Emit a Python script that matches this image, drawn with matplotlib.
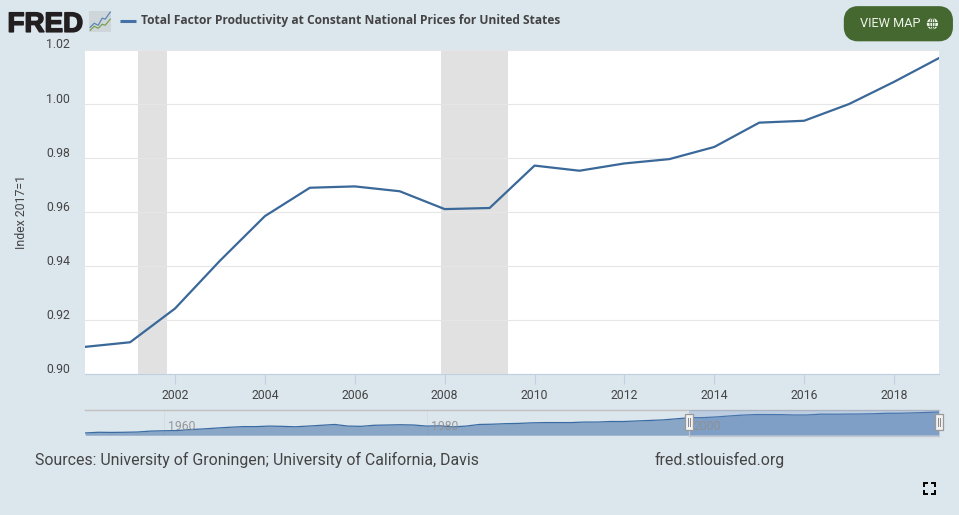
import matplotlib

matplotlib.use("Agg")
import matplotlib.pyplot as plt
import matplotlib.patheffects as pe
from matplotlib.patches import Circle, Ellipse, FancyBboxPatch, Rectangle
from matplotlib.transforms import ScaledTranslation

# layout is worked out in the pixels of the screenshot
W, H = 957, 510

BG = "#dce6ed"
LINE = "#3a6899"
TEXT = "#444444"

years = list(range(2000, 2020))
tfp = [
    0.9101, 0.9118, 0.9243, 0.9420, 0.9585, 0.9690, 0.9695, 0.9677, 0.9611, 0.9615,
    0.9772, 0.9753, 0.9780, 0.9796, 0.9841, 0.9931, 0.9938, 1.0000, 1.0082, 1.0170,
]
y_ticks = [0.90, 0.92, 0.94, 0.96, 0.98, 1.00, 1.02]
x_ticks = [2002, 2004, 2006, 2008, 2010, 2012, 2014, 2016, 2018]
recessions = [(2001.17, 2001.83), (2007.92, 2009.42)]

# whole series, only seen in the small navigator strip
nav_years = list(range(1954, 2020))
nav_tfp = [
    0.627, 0.640, 0.637, 0.640, 0.645, 0.662, 0.668, 0.672, 0.690, 0.702,
    0.718, 0.733, 0.745, 0.745, 0.755, 0.750, 0.742, 0.755, 0.770, 0.785,
    0.755, 0.750, 0.770, 0.775, 0.780, 0.775, 0.755, 0.760, 0.740, 0.755,
    0.785, 0.790, 0.800, 0.805, 0.815, 0.820, 0.820, 0.820, 0.830, 0.830,
    0.840, 0.840, 0.850, 0.860, 0.870, 0.890,
] + tfp
nav_ticks = [1960, 1980, 2000]
selected = (2000, 2019)


def axes_px(fig, left, top, right, bottom):
    return fig.add_axes(
        [left / W, 1 - bottom / H, (right - left) / W, (bottom - top) / H]
    )


plt.rcParams["font.family"] = ["Roboto", "DejaVu Sans"]
fig = plt.figure(figsize=(9.59, 5.15), dpi=100, facecolor=BG)

# main chart
ax = axes_px(fig, 85, 49.5, 937, 370.5)
ax.set_facecolor("white")
for start, end in recessions:
    ax.axvspan(start, end, color="#e1e1e1", lw=0, zorder=1)
ax.plot(years, tfp, color=LINE, lw=1.6, zorder=3, solid_joinstyle="round")
ax.set_xlim(2000, 2019)
ax.set_ylim(0.90, 1.02)
ax.set_yticks(y_ticks, [f"{v:.2f}" for v in y_ticks])
ax.set_xticks(x_ticks, [str(v) for v in x_ticks])
ax.grid(axis="y", color="#e6e6e6", lw=0.8, zorder=2)
ax.set_axisbelow(False)
for side in ["top", "right", "left"]:
    ax.spines[side].set_visible(False)
ax.spines["bottom"].set_color("#c0d0e0")
ax.tick_params(axis="y", length=0, pad=10.8, labelsize=8.8, labelcolor=TEXT)
ax.tick_params(axis="x", length=7, width=0.8, color="#c0d0e0", pad=3.5,
               labelsize=8.8, labelcolor=TEXT)
# y labels sit a little above their grid lines
lift = ScaledTranslation(0, 1.5 / 100, fig.dpi_scale_trans)
for label in ax.get_yticklabels():
    label.set_verticalalignment("baseline")
    label.set_transform(label.get_transform() + lift)

# navigator strip
nav = axes_px(fig, 85, 406.5, 937, 431)
nav.patch.set_alpha(0)
nav.fill_between(nav_years, nav_tfp, 0.585, color="#4572a7", alpha=0.55, lw=0, zorder=2)
nav.plot(nav_years, nav_tfp, color="#3a6ba3", lw=0.9, zorder=3)
nav.axvspan(selected[0], selected[1], color="#6a8fc6", alpha=0.28, lw=0, zorder=4)
for tick in nav_ticks:
    nav.axvline(tick, color="#d5dde2", lw=0.7, zorder=1)
    nav.annotate(str(tick), (tick, 0.585), xytext=(2.8, 3.5), textcoords="offset points",
                 fontsize=8.8, color="#8f8f8f", alpha=0.9, zorder=5)
nav.set_xlim(1954, 2019)
nav.set_ylim(0.585, 1.045)
nav.set_xticks([])
nav.set_yticks([])
for side in ["left", "right", "bottom"]:
    nav.spines[side].set_visible(False)
nav.spines["top"].set_color("#c2c2c2")
nav.spines["top"].set_linewidth(1.0)

# everything around the chart, drawn on a pixel canvas
cv = axes_px(fig, 0, 0, W, H)
cv.set_xlim(0, W)
cv.set_ylim(H, 0)
cv.axis("off")
cv.patch.set_alpha(0)

# bottom edge of selected part and navigator handles
cv.plot([687.5, 937], [431.5, 431.5], color="#c2c8ce", lw=1)
cv.plot([687.5, 687.5], [407, 431.5], color="#c2c8ce", lw=0.8)
for x0 in [683.5, 933]:
    cv.add_patch(Rectangle((x0, 410), 8, 15.5, fc="#f2f2f2", ec="#999999", lw=0.9, zorder=6))
    cv.plot([x0 + 3, x0 + 3], [413.5, 422], color="#888888", lw=0.7, zorder=7)
    cv.plot([x0 + 5, x0 + 5], [413.5, 422], color="#888888", lw=0.7, zorder=7)

# header
cv.text(7.5, 31.5, "FRED", fontsize=20, fontweight="bold", family="Liberation Sans",
        color="#231f20", va="baseline", ha="left",
        path_effects=[pe.withStroke(linewidth=1.1, foreground="#231f20")])
cv.add_patch(Rectangle((89, 11), 22, 21, fc="#cfd6da", ec="none"))
cv.plot([90, 94, 98, 102, 105, 110], [27, 23, 25, 18, 19, 12], color="#5b86b5", lw=0.9)
cv.plot([90, 94, 98, 102, 105, 110], [30, 26, 28, 24, 25, 19], color="#7c9f52", lw=0.9)
cv.plot([120, 136], [21, 21], color="#4572a7", lw=2.2, solid_capstyle="butt")
cv.text(141, 20, "Total Factor Productivity at Constant National Prices for United States",
        fontsize=8.62, fontweight="bold", family="Open Sans", color=TEXT, va="center")

# VIEW MAP button
cv.add_patch(FancyBboxPatch((848, 12), 97, 23, boxstyle="round,pad=0,rounding_size=8",
                            mutation_aspect=1, fc="#44682f", ec="#44682f", lw=8.6,
                            joinstyle="round"))
cv.text(858, 23.5, "VIEW MAP", fontsize=9.2, color="#eef3ea", va="center", ha="left")
cv.add_patch(Circle((930.5, 23.5), 5.6, fc="#eef3ea", ec="none"))
cv.add_patch(Ellipse((930.5, 23.5), 5, 11.2, fc="none", ec="#44682f", lw=0.6))
cv.plot([925, 936], [21.7, 21.7], color="#44682f", lw=0.6)
cv.plot([925, 936], [25.3, 25.3], color="#44682f", lw=0.6)
cv.plot([930.5, 930.5], [18, 29], color="#44682f", lw=0.6)

# y title and footer
cv.text(21.5, 210, "Index 2017=1", fontsize=8.8, color=TEXT, rotation=90, va="center", ha="center")
cv.text(35, 456, "Sources: University of Groningen; University of California, Davis",
        fontsize=11.45, color=TEXT, va="center", ha="left")
cv.text(653, 456, "fred.stlouisfed.org", fontsize=11.45, color=TEXT, va="center", ha="left")

# fullscreen icon
for cx, dx in [(922.5, 4), (933.5, -4)]:
    for cy, dy in [(478.5, 4), (489.5, -4)]:
        cv.plot([cx + dx, cx, cx], [cy, cy, cy + dy], color="black", lw=1.4,
                solid_capstyle="butt", solid_joinstyle="miter")

fig.savefig("out.png", dpi=100, facecolor=BG)
